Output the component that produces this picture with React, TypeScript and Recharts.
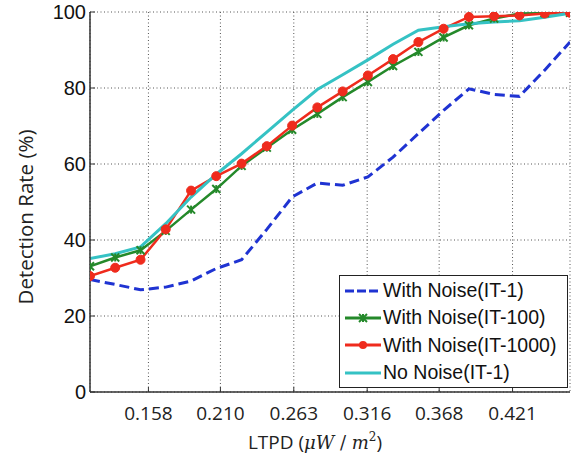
import React from "react";
import {
  CartesianGrid,
  Legend,
  Line,
  LineChart,
  XAxis,
  YAxis,
} from "recharts";

const LTPD = [
  0.1158, 0.134, 0.1523, 0.1705, 0.1888, 0.207, 0.2253, 0.2435, 0.2618, 0.28,
  0.2983, 0.3165, 0.3347, 0.353, 0.3712, 0.3895, 0.4077, 0.426, 0.4442, 0.4625,
];
const NOISE_IT1 = [
  29.6, 28.3, 26.9, 27.6, 29.2, 32.5, 34.8, 42.8, 51.3, 55.0, 54.4, 56.6, 61.8,
  68.0, 74.1, 79.8, 78.3, 77.8, 84.7, 92.1,
];
const NOISE_IT100 = [
  33.1, 35.4, 37.3, 42.4, 48.0, 53.4, 59.5, 64.3, 69.0, 73.2, 77.6, 81.6, 85.8,
  89.5, 93.3, 96.5, 98.3, 99.6, 99.7, 99.8,
];
const NOISE_IT1000 = [
  30.5, 32.7, 34.8, 42.8, 53.0, 56.8, 60.1, 64.7, 70.1, 74.9, 79.1, 83.3, 87.6,
  92.1, 95.6, 98.7, 98.9, 99.1, 99.6, 99.8,
];
const NO_NOISE = [
  35.1, 36.4, 38.2, 44.3, 51.3, 57.3, 62.7, 68.4, 74.1, 79.6, 83.5, 87.4, 91.5,
  95.2, 96.1, 96.9, 97.4, 97.7, 98.6, 99.7,
];
const X_TICKS = [0.158, 0.21, 0.263, 0.316, 0.368, 0.421];
const Y_TICKS = [0, 20, 40, 60, 80, 100];
const X_DOMAIN: [number, number] = [0.1158, 0.4625];

const BLUE = "#1f33d2";
const GREEN = "#24892a";
const RED = "#ef2b1d";
const CYAN = "#35c2c4";
const AXIS = "#333";

const data = LTPD.map((x, i) => ({
  x,
  it1: NOISE_IT1[i],
  it100: NOISE_IT100[i],
  it1000: NOISE_IT1000[i],
  clean: NO_NOISE[i],
}));

const legendItems = [
  { label: "With Noise(IT-1)", color: BLUE, dash: "9 3", marker: "none" },
  { label: "With Noise(IT-100)", color: GREEN, dash: "", marker: "star" },
  { label: "With Noise(IT-1000)", color: RED, dash: "", marker: "circle" },
  { label: "No Noise(IT-1)", color: CYAN, dash: "", marker: "none" },
];

function Star({ cx, cy, color }: { cx: number; cy: number; color: string }) {
  const r = 4;
  return (
    <g stroke={color} strokeWidth={2}>
      <line x1={cx - r} y1={cy - r} x2={cx + r} y2={cy + r} />
      <line x1={cx - r} y1={cy + r} x2={cx + r} y2={cy - r} />
      <line x1={cx} y1={cy - r} x2={cx} y2={cy + r} />
    </g>
  );
}

function StarDot(props: any) {
  const { cx, cy } = props;
  if (cx == null || cy == null) return <g />;
  return <Star cx={cx} cy={cy} color={GREEN} />;
}

function BottomTick(props: any) {
  const { x, y, payload } = props;
  return (
    <g>
      <line x1={x} x2={x} y1={y} y2={y - 5} stroke={AXIS} />
      <text
        x={x}
        y={y + 28}
        textAnchor="middle"
        fontFamily="'Open Sans', sans-serif"
        fontSize={19}
        fill="#222"
      >
        {Number(payload.value).toFixed(3)}
      </text>
    </g>
  );
}

function TopTick(props: any) {
  const { x, y } = props;
  return <line x1={x} x2={x} y1={y} y2={y + 5} stroke={AXIS} />;
}

function LeftTick(props: any) {
  const { x, y, payload } = props;
  return (
    <g>
      <line x1={x} x2={x + 5} y1={y} y2={y} stroke={AXIS} />
      <text
        x={x - 4}
        y={y + 7}
        textAnchor="end"
        fontFamily="'Liberation Sans', Arial, sans-serif"
        fontSize={20}
        fill="#111"
      >
        {payload.value}
      </text>
    </g>
  );
}

function RightTick(props: any) {
  const { x, y } = props;
  return <line x1={x} x2={x - 5} y1={y} y2={y} stroke={AXIS} />;
}

function XLabel(props: any) {
  const { viewBox } = props;
  const cx = viewBox.x + viewBox.width / 2 - 15;
  return (
    <text
      x={cx}
      y={viewBox.y + 57}
      textAnchor="middle"
      fontFamily="'Open Sans', sans-serif"
      fontSize={19}
      fill="#222"
    >
      LTPD (
      <tspan fontFamily="'DejaVu Serif', serif" fontStyle="italic" fontSize={18}>
        μW
      </tspan>
      <tspan fontFamily="'DejaVu Serif', serif" fontSize={18}>
        {" / "}
      </tspan>
      <tspan fontFamily="'DejaVu Serif', serif" fontStyle="italic" fontSize={18}>
        m
      </tspan>
      <tspan fontFamily="'DejaVu Serif', serif" fontSize={12} dy={-8}>
        2
      </tspan>
      <tspan dy={8}>)</tspan>
    </text>
  );
}

function YLabel(props: any) {
  const { viewBox } = props;
  const cx = viewBox.x + 25;
  const cy = viewBox.y + viewBox.height / 2 + 15;
  return (
    <text
      x={cx}
      y={cy}
      transform={`rotate(-90 ${cx} ${cy})`}
      textAnchor="middle"
      dominantBaseline="central"
      fontFamily="'Open Sans', sans-serif"
      fontSize={20.5}
      fill="#222"
    >
      Detection Rate (%)
    </text>
  );
}

function LegendBox() {
  return (
    <div
      style={{
        border: "1.5px solid #222",
        background: "#fff",
        boxSizing: "border-box",
        width: 229,
        height: 113,
        paddingTop: 1,
      }}
    >
      {legendItems.map((it) => (
        <div
          key={it.label}
          style={{ display: "flex", alignItems: "center", height: 27.3 }}
        >
          <svg width={43} height={20} style={{ flex: "none" }}>
            <line
              x1={5}
              x2={41}
              y1={10}
              y2={10}
              stroke={it.color}
              strokeWidth={3}
              strokeDasharray={it.dash || undefined}
            />
            {it.marker === "circle" && (
              <circle cx={23} cy={10} r={4} fill={it.color} />
            )}
            {it.marker === "star" && <Star cx={23} cy={10} color={it.color} />}
          </svg>
          <span
            style={{
              fontFamily: "'Liberation Sans', Arial, sans-serif",
              fontSize: 19.5,
              color: "#111",
              whiteSpace: "nowrap",
            }}
          >
            {it.label}
          </span>
        </div>
      ))}
    </div>
  );
}

export default function App() {
  return (
    <div style={{ position: "absolute", left: 0, top: 0, background: "#fff" }}>
      <LineChart
        width={585}
        height={460}
        data={data}
        margin={{ top: 12, right: 15, left: 0, bottom: 0 }}
      >
        <CartesianGrid
          stroke="#555"
          strokeDasharray="1 2.5"
          strokeWidth={1}
        />
        <XAxis
          dataKey="x"
          type="number"
          domain={X_DOMAIN}
          allowDataOverflow
          ticks={X_TICKS}
          height={68}
          tickSize={0}
          tickMargin={0}
          tickLine={false}
          stroke={AXIS}
          strokeWidth={1.5}
          tick={(p: any) => <BottomTick {...p} />}
          label={<XLabel />}
        />
        <XAxis
          xAxisId="top"
          orientation="top"
          type="number"
          domain={X_DOMAIN}
          allowDataOverflow
          ticks={X_TICKS}
          height={0}
          tickSize={0}
          tickMargin={0}
          tickLine={false}
          stroke={AXIS}
          strokeWidth={1.5}
          tick={(p: any) => <TopTick {...p} />}
        />
        <YAxis
          type="number"
          domain={[0, 100]}
          allowDataOverflow
          ticks={Y_TICKS}
          width={90}
          tickSize={0}
          tickMargin={0}
          tickLine={false}
          stroke={AXIS}
          strokeWidth={1.5}
          tick={(p: any) => <LeftTick {...p} />}
          label={<YLabel />}
        />
        <YAxis
          yAxisId="right"
          orientation="right"
          type="number"
          domain={[0, 100]}
          allowDataOverflow
          ticks={Y_TICKS}
          width={0}
          tickSize={0}
          tickMargin={0}
          tickLine={false}
          stroke={AXIS}
          strokeWidth={1.5}
          tick={(p: any) => <RightTick {...p} />}
        />
        <Legend
          layout="vertical"
          align="center"
          verticalAlign="middle"
          wrapperStyle={{ left: 339, top: 275, width: 229, height: 113 }}
          content={() => <LegendBox />}
        />
        <Line
          dataKey="it1"
          stroke={BLUE}
          strokeWidth={3}
          strokeDasharray="10 5"
          dot={false}
          isAnimationActive={false}
        />
        <Line
          dataKey="it100"
          stroke={GREEN}
          strokeWidth={2.5}
          dot={<StarDot />}
          isAnimationActive={false}
        />
        <Line
          dataKey="it1000"
          stroke={RED}
          strokeWidth={2.5}
          dot={{ r: 4.5, fill: RED, stroke: RED, strokeWidth: 1 }}
          isAnimationActive={false}
        />
        <Line
          dataKey="clean"
          stroke={CYAN}
          strokeWidth={3}
          dot={false}
          isAnimationActive={false}
        />
      </LineChart>
    </div>
  );
}
